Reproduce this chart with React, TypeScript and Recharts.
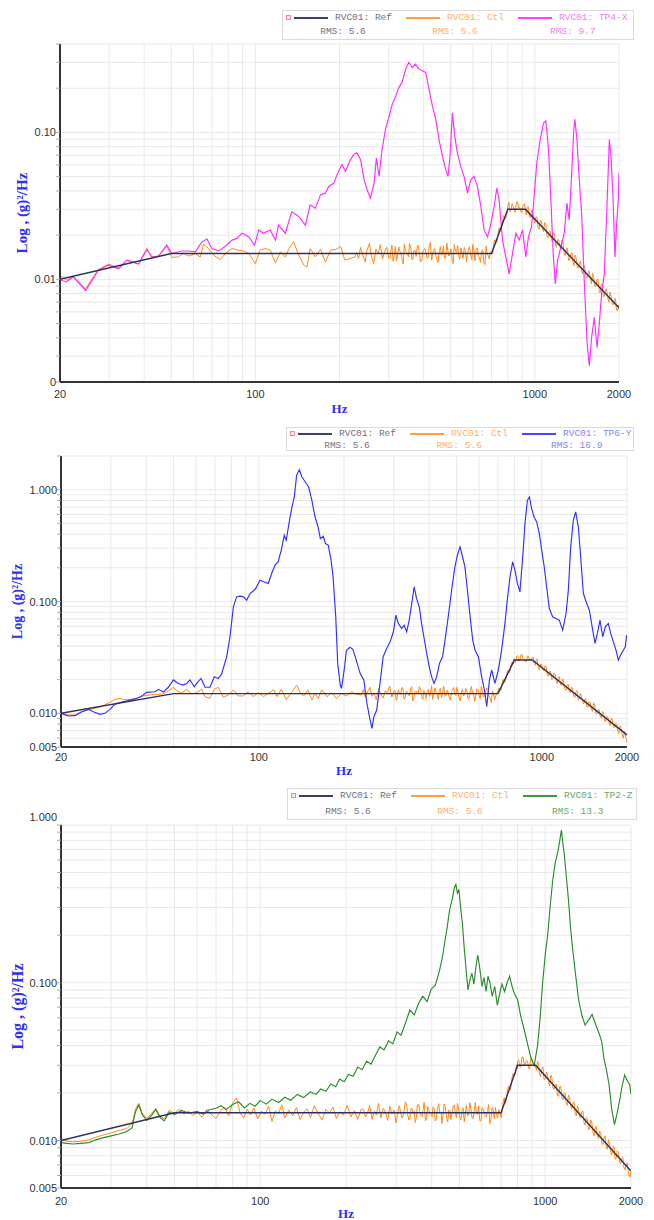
import React from 'react';
import { LineChart, Line, XAxis, YAxis, CartesianGrid } from 'recharts';

// ---------- shared axis values ----------
const X_TICKS = [20, 30, 40, 50, 60, 70, 80, 90, 100, 200, 300, 400, 500, 600, 700, 800, 900, 1000, 2000];
const X_LABELS = [20, 100, 1000, 2000];

const Y1_TICKS = [0.002, 0.003, 0.004, 0.005, 0.006, 0.007, 0.008, 0.009, 0.01, 0.02, 0.03, 0.04, 0.05, 0.06, 0.07, 0.08, 0.09, 0.1, 0.2, 0.3, 0.4];
const Y1_LABELS: [number, string][] = [[0.002, '0'], [0.01, '0.01'], [0.1, '0.10']];
const Y2_TICKS = [0.005, 0.006, 0.007, 0.008, 0.009, 0.01, 0.02, 0.03, 0.04, 0.05, 0.06, 0.07, 0.08, 0.09, 0.1, 0.2, 0.3, 0.4, 0.5, 0.6, 0.7, 0.8, 0.9, 1, 2];
const Y3_TICKS = [0.005, 0.006, 0.007, 0.008, 0.009, 0.01, 0.02, 0.03, 0.04, 0.05, 0.06, 0.07, 0.08, 0.09, 0.1, 0.2, 0.3, 0.4, 0.5, 0.6, 0.7, 0.8, 0.9, 1];
const Y23_LABELS: [number, string][] = [[0.005, '0.005'], [0.01, '0.010'], [0.1, '0.100'], [1, '1.000']];

// ---------- reference profile (same in all three charts) ----------
const REF_F = [20, 50, 700, 800, 925, 2000];
const REF_V = [0.01, 0.015, 0.015, 0.03, 0.03, 0.0064];

// ---------- control traces: low-frequency part (Hz, g²/Hz) ----------
const CTL1_LF = [[20, 0.01065], [21.1, 0.00985], [22.3, 0.0105], [24.7, 0.00863], [27.4, 0.01165], [29.8, 0.0127], [32.4, 0.01197], [34.7, 0.0135], [38.2, 0.0127], [40.9, 0.0162], [42.6, 0.0142], [45, 0.0144], [48.2, 0.0168], [50.3, 0.0141], [53.1, 0.0142], [55.3, 0.0151], [57.7, 0.0144], [61, 0.015], [63.5, 0.0142], [65.3, 0.0174], [68, 0.0162], [70.9, 0.0146], [74.9, 0.0136], [78.1, 0.015], [82.5, 0.0162], [86.7, 0.0158], [90.8, 0.0156], [94.6, 0.015], [100, 0.0128], [104, 0.0158], [109, 0.0162], [113, 0.0158], [118, 0.0129], [123, 0.0154], [128, 0.0142], [132, 0.0162], [137, 0.018], [143, 0.0146], [149, 0.0125], [153, 0.0121], [157, 0.0162], [164, 0.0142], [171, 0.016], [178, 0.0131], [186, 0.0158], [194, 0.016], [202, 0.0167], [209, 0.0135], [219, 0.0139], [227, 0.0142]];
const CTL2_LF = [[20, 0.01], [21.2, 0.00967], [22.4, 0.00967], [23.7, 0.01035], [25, 0.0107], [26.4, 0.0111], [27.8, 0.0115], [29.4, 0.0123], [31, 0.0133], [32.3, 0.0136], [33.7, 0.0132], [35.1, 0.0133], [37, 0.0136], [39.1, 0.0143], [41.3, 0.0146], [43, 0.0148], [45.4, 0.0148], [47.9, 0.0159], [49.9, 0.0171], [51.3, 0.0159], [53.4, 0.0151], [55.6, 0.0164], [57.9, 0.0149], [60.3, 0.0153], [62.8, 0.0164], [64.6, 0.0141], [67.2, 0.0136], [69.6, 0.0164], [71.9, 0.0171], [74.9, 0.0139], [78.1, 0.0146], [81.3, 0.0162], [84.6, 0.0143], [88.2, 0.0143], [91.8, 0.0156], [95.6, 0.0141], [99.6, 0.0153], [104, 0.0141], [108, 0.0151], [113, 0.0162], [116, 0.0141], [120, 0.0164], [125, 0.0133], [131, 0.0156], [136, 0.0179], [140, 0.0153], [144, 0.0143], [149, 0.0162], [154, 0.0132], [158, 0.0151], [162, 0.0136], [167, 0.0162], [174, 0.0141], [181, 0.0153], [188, 0.0136], [196, 0.0151], [204, 0.0143], [213, 0.0156], [219, 0.0149]];
const CTL3_LF = [[20, 0.0101], [21, 0.0099], [22, 0.0098], [23.5, 0.0099], [25, 0.0101], [26.5, 0.0105], [28, 0.0108], [30, 0.0112], [32, 0.0116], [34, 0.0119], [35.5, 0.0128], [36.5, 0.0158], [37.5, 0.0172], [38.5, 0.015], [40, 0.0138], [41.5, 0.0148], [43, 0.016], [44.5, 0.0143], [46, 0.0137], [48, 0.0156], [50, 0.0148], [52, 0.0158], [54, 0.0147], [56, 0.0154], [58, 0.0144], [60, 0.0151], [62.5, 0.0141], [65, 0.0157], [67.5, 0.0146], [70, 0.0138], [72.5, 0.0155], [75, 0.0162], [77.5, 0.0143], [80, 0.0172], [82.5, 0.0186], [85, 0.015], [87.5, 0.0139], [90, 0.0158], [92.5, 0.0145], [95, 0.0161], [98, 0.0137], [101, 0.0153], [104, 0.0147], [107, 0.0165], [110, 0.0132], [113, 0.0154], [116, 0.0148], [119, 0.0168], [122, 0.0139], [126, 0.0156], [130, 0.0143], [134, 0.0162], [138, 0.0136], [142, 0.0151], [146, 0.0159], [150, 0.014], [155, 0.0166], [160, 0.0147], [165, 0.0135], [170, 0.0158], [175, 0.0149], [180, 0.0163], [185, 0.0138], [190, 0.0152], [196, 0.0145], [202, 0.0167], [208, 0.0141], [214, 0.0155], [220, 0.0136], [226, 0.0158]];

// ---------- control traces: high-frequency part on two interleaved frequency lists ----------
const HF_F = [230, 234, 238, 242, 247, 251, 256, 260, 265, 270, 275, 280, 285, 290, 295, 300, 306, 311, 317, 323, 329, 335, 341, 347, 353, 360, 366, 373, 380, 387, 394, 401, 408, 415, 423, 431, 438, 446, 455, 463, 471, 480, 488, 497, 506, 515, 525, 534, 544, 554, 564, 574, 584, 595, 606, 617, 628, 639, 651, 663, 675, 687, 700, 712, 725, 738, 752, 765, 779, 793, 800, 814, 829, 844, 859, 875, 890, 906, 925, 939, 956, 973, 991, 1009, 1027, 1046, 1065, 1084, 1104, 1124, 1144, 1165, 1186, 1207, 1229, 1251, 1274, 1297, 1320, 1344, 1369, 1393, 1419, 1444, 1470, 1497, 1524, 1552, 1580, 1608, 1637, 1667, 1697, 1728, 1759, 1791, 1823, 1856, 1890, 1924, 1959, 1994, 2000];
const HF_F2 = [303, 308, 314, 320, 326, 332, 338, 344, 350, 356, 363, 369, 376, 383, 390, 397, 404, 411, 419, 427, 434, 442, 450, 459, 467, 475, 484, 492, 501, 510, 520, 529, 539, 549, 559, 569, 579, 589, 600, 611, 622, 633, 645, 657, 669, 681, 693, 706, 718, 731, 745, 758, 772, 786, 796, 807, 821, 836, 851, 867, 882, 898, 915, 932, 947, 964, 982, 1000, 1018, 1036, 1055, 1074, 1094, 1114, 1134, 1154, 1175, 1196, 1218, 1240, 1262, 1285, 1308, 1332, 1356, 1381, 1406, 1431, 1457, 1483, 1510, 1538, 1566, 1594, 1622, 1652, 1682, 1712, 1743, 1775, 1807, 1839, 1873, 1907, 1941, 1976];

const CTL1_HF = [0.0152, 0.0139, 0.0165, 0.0148, 0.0131, 0.0158, 0.0176, 0.0143, 0.0128, 0.0161, 0.0149, 0.0172, 0.0137, 0.0155, 0.0166, 0.0141, 0.0159, 0.0133, 0.0168, 0.0147, 0.0154, 0.0136, 0.0174, 0.0151, 0.0142, 0.0163, 0.0138, 0.0157, 0.0170, 0.0145, 0.0134, 0.0160, 0.0152, 0.0140, 0.0178, 0.0149, 0.0162, 0.0137, 0.0155, 0.0146, 0.0169, 0.0141, 0.0158, 0.0150, 0.0135, 0.0173, 0.0153, 0.0144, 0.0164, 0.0139, 0.0157, 0.0148, 0.0167, 0.0136, 0.0154, 0.0161, 0.0143, 0.0130, 0.0158, 0.0126, 0.0149, 0.0138, 0.0156,
  0.0172, 0.0176, 0.0205, 0.0212, 0.0245, 0.0268, 0.0281,
  0.0312, 0.0289, 0.0327, 0.0298, 0.0335, 0.0306, 0.0292, 0.0318, 0.0301,
  0.0309, 0.0267, 0.0295, 0.0254, 0.0265, 0.0224, 0.0253, 0.0224, 0.0243, 0.0198, 0.0211, 0.0188, 0.0208, 0.0170, 0.0187, 0.0167, 0.0184, 0.0150, 0.0163, 0.0134, 0.0149, 0.0133, 0.0146, 0.0120, 0.0130, 0.0114, 0.0125, 0.0103, 0.0112, 0.0101, 0.0110, 0.0090, 0.0099, 0.0085, 0.0093, 0.0076, 0.0085, 0.0075, 0.0082, 0.0068, 0.0073, 0.0062, 0.0067, 0.0062];
const CTL1_HF2 = [0.0138, 0.0171, 0.0145, 0.0133, 0.0166, 0.0152, 0.0127, 0.0160, 0.0148, 0.0175, 0.0136, 0.0157, 0.0143, 0.0169, 0.0131, 0.0154, 0.0162, 0.0140, 0.0172, 0.0135, 0.0158, 0.0146, 0.0130, 0.0167, 0.0151, 0.0139, 0.0176, 0.0144, 0.0161, 0.0128, 0.0155, 0.0170, 0.0137, 0.0149, 0.0165, 0.0132, 0.0159, 0.0147, 0.0173, 0.0134, 0.0163, 0.0142, 0.0156, 0.0129, 0.0168, 0.0145, 0.0153,
  0.0148, 0.0186, 0.0178, 0.0224, 0.0215, 0.0271, 0.0259,
  0.0281, 0.0334, 0.0293, 0.0318, 0.0286, 0.0337, 0.0309, 0.0285, 0.0326,
  0.0275, 0.0312, 0.0262, 0.0293, 0.0241, 0.0265, 0.0220, 0.0249, 0.0211, 0.0238, 0.0192, 0.0212, 0.0181, 0.0203, 0.0165, 0.0185, 0.0159, 0.0177, 0.0145, 0.0162, 0.0136, 0.0152, 0.0124, 0.0139, 0.0119, 0.0133, 0.0109, 0.0119, 0.0102, 0.0114, 0.0093, 0.0104, 0.0089, 0.0100, 0.0081, 0.0091, 0.0077, 0.0086, 0.0070, 0.0078, 0.0067, 0.0074, 0.0061];
const CTL2_HF = [0.0146, 0.0163, 0.0138, 0.0155, 0.0171, 0.0142, 0.0150, 0.0132, 0.0166, 0.0148, 0.0137, 0.0159, 0.0153, 0.0175, 0.0140, 0.0156, 0.0131, 0.0162, 0.0147, 0.0168, 0.0139, 0.0154, 0.0145, 0.0173, 0.0136, 0.0158, 0.0149, 0.0164, 0.0134, 0.0152, 0.0160, 0.0141, 0.0177, 0.0146, 0.0155, 0.0133, 0.0167, 0.0150, 0.0143, 0.0161, 0.0138, 0.0157, 0.0170, 0.0144, 0.0153, 0.0129, 0.0165, 0.0148, 0.0159, 0.0137, 0.0174, 0.0151, 0.0142, 0.0163, 0.0135, 0.0156, 0.0147, 0.0169, 0.0140, 0.0125, 0.0152, 0.0143, 0.0158,
  0.0159, 0.0191, 0.0189, 0.0226, 0.0231, 0.0272, 0.0276,
  0.0298, 0.0321, 0.0293, 0.0334, 0.0305, 0.0289, 0.0326, 0.0297, 0.0315,
  0.0279, 0.0303, 0.0252, 0.0277, 0.0247, 0.0268, 0.0221, 0.0238, 0.0201, 0.0230, 0.0197, 0.0210, 0.0180, 0.0203, 0.0164, 0.0177, 0.0157, 0.0171, 0.0143, 0.0156, 0.0131, 0.0151, 0.0128, 0.0134, 0.0114, 0.0128, 0.0109, 0.0124, 0.0100, 0.0108, 0.0095, 0.0104, 0.0085, 0.0094, 0.0083, 0.0091, 0.0075, 0.0081, 0.0069, 0.0077, 0.0064, 0.0069, 0.0058, 0.0055];
const CTL2_HF2 = [0.0161, 0.0137, 0.0152, 0.0170, 0.0134, 0.0158, 0.0145, 0.0166, 0.0129, 0.0156, 0.0149, 0.0173, 0.0141, 0.0160, 0.0136, 0.0164, 0.0151, 0.0133, 0.0169, 0.0147, 0.0157, 0.0138, 0.0175, 0.0144, 0.0153, 0.0131, 0.0162, 0.0148, 0.0171, 0.0139, 0.0155, 0.0143, 0.0167, 0.0135, 0.0159, 0.0150, 0.0128, 0.0165, 0.0146, 0.0174, 0.0140, 0.0154, 0.0163, 0.0137, 0.0158, 0.0132, 0.0150,
  0.0169, 0.0163, 0.0201, 0.0196, 0.0241, 0.0236, 0.0289,
  0.0307, 0.0284, 0.0329, 0.0296, 0.0338, 0.0301, 0.0290, 0.0322, 0.0299,
  0.0316, 0.0269, 0.0304, 0.0245, 0.0270, 0.0240, 0.0261, 0.0214, 0.0236, 0.0204, 0.0223, 0.0184, 0.0212, 0.0178, 0.0188, 0.0161, 0.0182, 0.0153, 0.0166, 0.0138, 0.0159, 0.0134, 0.0141, 0.0121, 0.0135, 0.0114, 0.0124, 0.0104, 0.0119, 0.0099, 0.0108, 0.0091, 0.0102, 0.0085, 0.0092, 0.0078, 0.0088, 0.0075, 0.0080, 0.0066, 0.0073, 0.0060, 0.0062];
const CTL3_HF = [0.0158, 0.0141, 0.0149, 0.0167, 0.0136, 0.0153, 0.0145, 0.0172, 0.0139, 0.0160, 0.0151, 0.0134, 0.0165, 0.0147, 0.0156, 0.0129, 0.0162, 0.0150, 0.0143, 0.0176, 0.0148, 0.0137, 0.0159, 0.0153, 0.0140, 0.0169, 0.0146, 0.0157, 0.0133, 0.0164, 0.0149, 0.0142, 0.0160, 0.0138, 0.0171, 0.0152, 0.0145, 0.0163, 0.0131, 0.0155, 0.0147, 0.0168, 0.0140, 0.0158, 0.0135, 0.0161, 0.0150, 0.0144, 0.0174, 0.0139, 0.0156, 0.0148, 0.0165, 0.0133, 0.0159, 0.0142, 0.0153, 0.0128, 0.0162, 0.0137, 0.0145, 0.0157, 0.0140,
  0.0175, 0.0172, 0.0211, 0.0208, 0.0252, 0.0257, 0.0302,
  0.0316, 0.0294, 0.0338, 0.0301, 0.0322, 0.0287, 0.0331, 0.0308, 0.0293,
  0.0317, 0.0264, 0.0285, 0.0243, 0.0272, 0.0236, 0.0260, 0.0215, 0.0227, 0.0194, 0.0219, 0.0188, 0.0200, 0.0172, 0.0194, 0.0165, 0.0172, 0.0147, 0.0166, 0.0141, 0.0152, 0.0129, 0.0140, 0.0117, 0.0135, 0.0113, 0.0120, 0.0107, 0.0115, 0.0096, 0.0105, 0.0091, 0.0101, 0.0084, 0.0090, 0.0076, 0.0086, 0.0074, 0.0077, 0.0067, 0.0071, 0.0062, 0.0063, 0.0058];
const CTL3_HF2 = [0.0144, 0.0166, 0.0139, 0.0155, 0.0171, 0.0135, 0.0160, 0.0148, 0.0130, 0.0168, 0.0152, 0.0141, 0.0175, 0.0137, 0.0157, 0.0146, 0.0163, 0.0133, 0.0159, 0.0150, 0.0128, 0.0170, 0.0143, 0.0156, 0.0136, 0.0164, 0.0149, 0.0172, 0.0140, 0.0153, 0.0131, 0.0167, 0.0145, 0.0158, 0.0138, 0.0174, 0.0147, 0.0134, 0.0161, 0.0151, 0.0142, 0.0169, 0.0136, 0.0154, 0.0162, 0.0139, 0.0151,
  0.0152, 0.0187, 0.0180, 0.0221, 0.0218, 0.0266, 0.0262,
  0.0286, 0.0325, 0.0292, 0.0339, 0.0303, 0.0316, 0.0284, 0.0330, 0.0305,
  0.0278, 0.0309, 0.0254, 0.0293, 0.0246, 0.0260, 0.0222, 0.0251, 0.0211, 0.0227, 0.0190, 0.0220, 0.0181, 0.0199, 0.0167, 0.0187, 0.0159, 0.0176, 0.0143, 0.0159, 0.0139, 0.0154, 0.0125, 0.0136, 0.0118, 0.0131, 0.0107, 0.0123, 0.0103, 0.0111, 0.0094, 0.0107, 0.0088, 0.0095, 0.0081, 0.0092, 0.0077, 0.0084, 0.0071, 0.0078, 0.0065, 0.0072, 0.0059];

// ---------- response channels ----------
const TP4X = [[20, 0.0099], [21.1, 0.0096], [22.3, 0.0104], [24.7, 0.0084], [27.4, 0.0115], [29.8, 0.0125], [32.4, 0.0118], [34.7, 0.0135], [38.2, 0.0127], [40.9, 0.016], [42.6, 0.0142], [45, 0.0144], [48.2, 0.0171], [50.3, 0.015], [54.6, 0.0156], [57.7, 0.0156], [61, 0.0154], [64.4, 0.018], [67.1, 0.0188], [69.9, 0.0162], [73.9, 0.0156], [78.1, 0.0168], [82.5, 0.0185], [86, 0.019], [89.6, 0.0206], [94.6, 0.0195], [99.4, 0.0171], [102.8, 0.0217], [107, 0.0206], [113, 0.0217], [118, 0.0185], [121, 0.0234], [128, 0.0206], [135, 0.0289], [143, 0.0267], [151, 0.0234], [157, 0.0321], [164, 0.0305], [171, 0.0376], [178, 0.0386], [183, 0.0429], [191, 0.0452], [196, 0.0515], [204, 0.0604], [210, 0.0543], [219, 0.0653], [225, 0.0707], [231, 0.0726], [238, 0.0653], [245, 0.0477], [251, 0.0407], [258, 0.0357], [266, 0.0452], [271, 0.067], [277, 0.0502], [284, 0.0765], [292, 0.105], [301, 0.129], [309, 0.156], [318, 0.177], [326, 0.202], [335, 0.219], [345, 0.27], [354, 0.3], [364, 0.277], [374, 0.292], [385, 0.27], [396, 0.263], [407, 0.256], [418, 0.197], [430, 0.151], [442, 0.123], [454, 0.0895], [467, 0.0689], [480, 0.0558], [489, 0.0502], [497, 0.0689], [507, 0.136], [517, 0.0944], [528, 0.0726], [543, 0.0588], [558, 0.0502], [574, 0.0386], [590, 0.0477], [606, 0.0502], [623, 0.0429], [641, 0.0313], [658, 0.0217], [677, 0.0195], [692, 0.0228], [715, 0.0313], [731, 0.0418], [745, 0.0348], [766, 0.0185], [787, 0.0142], [809, 0.0109], [832, 0.015], [855, 0.0206], [879, 0.0185], [903, 0.0217], [928, 0.0142], [949, 0.0195], [973, 0.0228], [994, 0.0366], [1016, 0.062], [1045, 0.0895], [1074, 0.116], [1095, 0.12], [1119, 0.0765], [1141, 0.0348], [1163, 0.015], [1183, 0.0093], [1206, 0.0135], [1239, 0.0166], [1274, 0.0206], [1302, 0.033], [1327, 0.0254], [1353, 0.0502], [1376, 0.0995], [1391, 0.123], [1414, 0.0895], [1442, 0.0477], [1470, 0.0282], [1502, 0.0098], [1536, 0.00382], [1566, 0.00258], [1596, 0.00403], [1632, 0.00552], [1668, 0.00344], [1700, 0.00497], [1733, 0.00798], [1772, 0.0109], [1811, 0.0313], [1847, 0.0895], [1872, 0.0689], [1903, 0.0366], [1935, 0.0142], [1962, 0.0241], [1989, 0.0348], [2000, 0.053]];
const TP6Y = [[20, 0.01], [21.2, 0.00946], [22.4, 0.00953], [23.7, 0.01035], [25, 0.01086], [26, 0.01035], [27.5, 0.0098], [28.6, 0.01], [29.8, 0.01086], [31, 0.0121], [32.8, 0.0126], [34.6, 0.013], [37, 0.0136], [38.6, 0.0143], [40.1, 0.0154], [43, 0.0156], [44.2, 0.0164], [46, 0.0155], [47.9, 0.0171], [49.9, 0.0199], [51.9, 0.0185], [54.1, 0.0179], [55.6, 0.0185], [57.1, 0.0199], [59.2, 0.0173], [60.3, 0.0185], [62.5, 0.0205], [64.6, 0.0171], [67.2, 0.0171], [69.6, 0.0212], [71.9, 0.0205], [73.9, 0.0225], [77, 0.0321], [79.1, 0.0484], [81.3, 0.0896], [83.5, 0.11], [85.8, 0.1116], [88.2, 0.11], [90.6, 0.1028], [93.1, 0.1178], [97, 0.128], [101, 0.155], [104, 0.15], [108, 0.145], [111, 0.178], [114, 0.211], [117, 0.226], [120, 0.287], [123, 0.391], [125, 0.353], [129, 0.57], [131, 0.7], [133.5, 0.86], [136, 1.343], [139, 1.509], [142, 1.297], [146, 1.171], [150, 1.056], [154, 0.803], [158, 0.57], [162, 0.464], [165, 0.365], [169, 0.383], [172, 0.33], [176, 0.318], [180, 0.234], [183, 0.166], [187, 0.073], [190, 0.0279], [194, 0.0179], [196, 0.0167], [201, 0.0261], [204, 0.0367], [210, 0.039], [215, 0.0373], [221, 0.0299], [228, 0.0228], [235, 0.0199], [241, 0.0123], [246, 0.00934], [251, 0.00735], [255, 0.00934], [261, 0.0107], [268, 0.0185], [275, 0.0321], [283, 0.038], [291, 0.0436], [299, 0.0536], [305, 0.0755], [311, 0.0637], [320, 0.0574], [326, 0.0615], [333, 0.0536], [340, 0.0681], [347, 0.096], [354, 0.135], [361, 0.106], [369, 0.0896], [376, 0.0637], [383, 0.0484], [392, 0.0343], [400, 0.0261], [408, 0.0212], [416, 0.0185], [425, 0.0212], [435, 0.0279], [446, 0.0321], [455, 0.0452], [467, 0.073], [480, 0.126], [493, 0.204], [503, 0.259], [514, 0.308], [525, 0.25], [535, 0.204], [546, 0.126], [558, 0.073], [570, 0.0452], [581, 0.0367], [597, 0.0321], [613, 0.0212], [627, 0.0162], [639, 0.0115], [653, 0.0199], [665, 0.0244], [683, 0.0185], [702, 0.0244], [721, 0.0367], [741, 0.0637], [755, 0.1028], [772, 0.166], [789, 0.226], [804, 0.19], [820, 0.145], [837, 0.122], [856, 0.25], [872, 0.497], [889, 0.803], [904, 0.86], [921, 0.676], [939, 0.57], [959, 0.514], [980, 0.405], [999, 0.287], [1018, 0.211], [1040, 0.135], [1063, 0.0866], [1092, 0.073], [1122, 0.0705], [1153, 0.0681], [1185, 0.0555], [1218, 0.0781], [1241, 0.126], [1265, 0.308], [1292, 0.532], [1317, 0.632], [1346, 0.464], [1372, 0.25], [1402, 0.118], [1441, 0.096], [1472, 0.0837], [1513, 0.0555], [1542, 0.0422], [1571, 0.0518], [1606, 0.0681], [1641, 0.0484], [1677, 0.0594], [1718, 0.0637], [1751, 0.0518], [1790, 0.0436], [1829, 0.0367], [1864, 0.0299], [1899, 0.0332], [1941, 0.0367], [1973, 0.0394], [1994, 0.05]];
const TP2Z = [[20, 0.0097], [21, 0.0096], [22, 0.0095], [23.5, 0.0096], [25, 0.0097], [26.5, 0.0101], [28, 0.0104], [30, 0.0107], [32, 0.011], [34, 0.0114], [35.5, 0.012], [36.5, 0.0152], [37.5, 0.0168], [38.5, 0.0146], [40, 0.0134], [41.5, 0.0144], [43, 0.0157], [44.5, 0.014], [46, 0.0133], [48, 0.0151], [50, 0.0146], [53, 0.0155], [56, 0.0149], [60, 0.0153], [63, 0.0147], [66, 0.0156], [70, 0.016], [73, 0.0166], [76, 0.0157], [80, 0.0169], [84, 0.0176], [88, 0.0161], [92, 0.0172], [96, 0.0165], [100, 0.0179], [105, 0.017], [110, 0.0183], [116, 0.0174], [122, 0.0188], [128, 0.018], [135, 0.0196], [142, 0.0187], [150, 0.0203], [157, 0.0196], [163, 0.0212], [170, 0.0205], [177, 0.0228], [184, 0.0219], [190, 0.0245], [197, 0.0236], [204, 0.0262], [212, 0.0255], [220, 0.0292], [228, 0.0281], [236, 0.0318], [245, 0.0305], [254, 0.0348], [263, 0.0392], [272, 0.0375], [282, 0.0428], [292, 0.041], [302, 0.0488], [312, 0.0465], [323, 0.0552], [335, 0.0672], [347, 0.0625], [360, 0.0745], [372, 0.082], [385, 0.076], [398, 0.091], [412, 0.097], [425, 0.118], [435, 0.142], [444, 0.18], [453, 0.225], [462, 0.29], [472, 0.34], [480, 0.4], [486, 0.42], [492, 0.37], [498, 0.39], [505, 0.3], [512, 0.24], [520, 0.165], [528, 0.12], [536, 0.09], [545, 0.105], [553, 0.115], [562, 0.098], [572, 0.128], [580, 0.15], [590, 0.122], [600, 0.095], [610, 0.108], [620, 0.088], [630, 0.11], [640, 0.1], [652, 0.082], [665, 0.095], [679, 0.072], [692, 0.085], [705, 0.098], [720, 0.088], [735, 0.1], [750, 0.11], [765, 0.095], [780, 0.085], [800, 0.078], [820, 0.062], [845, 0.05], [870, 0.04], [893, 0.033], [915, 0.03], [940, 0.04], [960, 0.06], [978, 0.097], [1000, 0.15], [1020, 0.2], [1040, 0.3], [1063, 0.45], [1085, 0.58], [1110, 0.69], [1125, 0.8], [1140, 0.93], [1155, 0.75], [1168, 0.64], [1185, 0.48], [1207, 0.335], [1228, 0.22], [1250, 0.16], [1280, 0.11], [1310, 0.078], [1345, 0.062], [1380, 0.054], [1420, 0.058], [1460, 0.063], [1500, 0.055], [1550, 0.047], [1580, 0.042], [1610, 0.0326], [1640, 0.028], [1675, 0.0226], [1710, 0.016], [1750, 0.0126], [1790, 0.015], [1825, 0.018], [1860, 0.022], [1900, 0.026], [1940, 0.024], [1980, 0.0226], [2000, 0.0196]];

// ---------- legend text ----------
const SERIES_NAMES = ['RVC01: Ref', 'RVC01: Ctl'];
const TEST_NAMES = ['RVC01: TP4-X', 'RVC01: TP6-Y', 'RVC01: TP2-Z'];
const RMS_REF = ['5.6', '5.6', '5.6'];
const RMS_CTL = ['5.6', '5.6', '5.6'];
const RMS_TEST = ['9.7', '16.9', '13.3'];

// ---------- styling ----------
const FONT_SANS = '"Liberation Sans", Arial, sans-serif';
const FONT_MONO = '"Liberation Mono", "Courier New", monospace';
const FONT_SERIF = '"Liberation Serif", "Times New Roman", serif';
const TITLE_BLUE = '#2f2ff2';
const REF_COLOR = '#2c3060';
const CTL_COLOR = '#ff8a1a';

type Pt = { f: number; v: number };
const fromPairs = (a: number[][]): Pt[] => a.map(([f, v]) => ({ f, v }));
const fromLists = (fs: number[], vals: number[]): Pt[] => fs.map((f, i) => ({ f, v: vals[i] }));
const ctlTrace = (lf: number[][], hf: number[], hf2: number[]): Pt[] => [
  ...fromPairs(lf),
  ...[...fromLists(HF_F, hf), ...fromLists(HF_F2, hf2)].sort((a, b) => a.f - b.f),
];
const REF_DATA: Pt[] = fromLists(REF_F, REF_V);

type ChartCfg = {
  top: number; height: number; left: number; right: number; plotTop: number; plotBottom: number;
  yDomain: [number, number]; yTicks: number[]; yLabels: [number, string][];
  ctl: Pt[]; test: Pt[]; testColor: string; testText: string; idx: number;
  titleX: number; titleSize: number; xLabelDy: number; hzDy: number;
  legend: { left: number; top: number; width: number; height: number; row1: number; row2: number };
};

const CHARTS: ChartCfg[] = [
  {
    top: 0, height: 420, left: 60, right: 619, plotTop: 44, plotBottom: 382,
    yDomain: [0.002, 0.4], yTicks: Y1_TICKS, yLabels: Y1_LABELS,
    ctl: ctlTrace(CTL1_LF, CTL1_HF, CTL1_HF2), test: fromPairs(TP4X), testColor: '#ff2cff', testText: '#ee80ee', idx: 0,
    titleX: 22, titleSize: 15, xLabelDy: 16, hzDy: 31,
    legend: { left: 282, top: 10, width: 352, height: 30, row1: 7, row2: 21 },
  },
  {
    top: 420, height: 360, left: 61, right: 627, plotTop: 36, plotBottom: 327,
    yDomain: [0.005, 2], yTicks: Y2_TICKS, yLabels: Y23_LABELS,
    ctl: ctlTrace(CTL2_LF, CTL2_HF, CTL2_HF2), test: fromPairs(TP6Y), testColor: '#3030ff', testText: '#8484ff', idx: 1,
    titleX: 17, titleSize: 14, xLabelDy: 14, hzDy: 28,
    legend: { left: 286, top: 7, width: 348, height: 24, row1: 6, row2: 17.5 },
  },
  {
    top: 780, height: 440, left: 61, right: 631, plotTop: 45, plotBottom: 408,
    yDomain: [0.005, 1], yTicks: Y3_TICKS, yLabels: Y23_LABELS,
    ctl: ctlTrace(CTL3_LF, CTL3_HF, CTL3_HF2), test: fromPairs(TP2Z), testColor: '#2a8c2a', testText: '#66aa66', idx: 2,
    titleX: 17, titleSize: 16, xLabelDy: 17, hzDy: 30,
    legend: { left: 287, top: 8, width: 350, height: 32, row1: 7, row2: 22.5 },
  },
];

const LEGEND_LINE = ['#3b3f6e', '#ffa040'];
const LEGEND_TEXT = ['#6f7285', '#ffb069'];
const TEST_LEGEND_LINE = ['#ff44ff', '#4848ff', '#3c9a3c'];

function LegendBox({ cfg }: { cfg: ChartCfg }) {
  const L = cfg.legend;
  const cols = [
    { name: SERIES_NAMES[0], rms: RMS_REF[cfg.idx], line: LEGEND_LINE[0], text: LEGEND_TEXT[0] },
    { name: SERIES_NAMES[1], rms: RMS_CTL[cfg.idx], line: LEGEND_LINE[1], text: LEGEND_TEXT[1] },
    { name: TEST_NAMES[cfg.idx], rms: RMS_TEST[cfg.idx], line: TEST_LEGEND_LINE[cfg.idx], text: cfg.testText },
  ];
  return (
    <div style={{ position: 'absolute', left: L.left, top: L.top, width: L.width, height: L.height, border: '1px solid #dadada', boxSizing: 'border-box', background: '#fff', fontFamily: FONT_MONO, fontSize: 9.5 }}>
      <div style={{ position: 'absolute', left: 3, top: L.row1 - 3, width: 5, height: 5, border: '1px solid #f08c8c', background: '#fde4e4', boxSizing: 'border-box' }} />
      {cols.map((c, i) => (
        <div key={i} style={{ position: 'absolute', left: 11 + i * 112, top: L.row1 - 6, display: 'flex', flexDirection: 'column', alignItems: 'center' }}>
          <div style={{ display: 'flex', alignItems: 'center', height: 12 }}>
            <span style={{ display: 'inline-block', width: 34, height: 2, background: c.line, marginRight: 7 }} />
            <span style={{ color: c.text, lineHeight: '12px', whiteSpace: 'pre' }}>{c.name}</span>
          </div>
          <div style={{ color: c.text, lineHeight: '12px', whiteSpace: 'pre', marginTop: L.row2 - L.row1 - 12 }}>{'RMS: ' + c.rms}</div>
        </div>
      ))}
    </div>
  );
}

function PsdChart({ cfg }: { cfg: ChartCfg }) {
  const margin = { top: cfg.plotTop, right: 654 - cfg.right, left: 0, bottom: cfg.height - cfg.plotBottom - 30 };
  const xTick = (p: any) => {
    const val = p.payload?.value;
    if (!X_LABELS.includes(val)) return <g />;
    return (
      <text x={p.x} y={cfg.plotBottom + cfg.xLabelDy} textAnchor="middle" fontSize={11} fill="#333" fontFamily={FONT_SANS}>{String(val)}</text>
    );
  };
  const yTick = (p: any) => {
    const val = p.payload?.value;
    const lab = cfg.yLabels.find(([v]) => Math.abs(v - val) < v * 1e-6);
    if (!lab) return <g />;
    const shift = lab[0] === cfg.yDomain[1] ? -8 : 0;
    return (
      <text x={p.x} y={p.y + shift} dy={4} textAnchor="end" fontSize={11} fill="#333" fontFamily={FONT_SANS}>{lab[1]}</text>
    );
  };
  const yTitle = (p: any) => {
    const vb = p.viewBox || {};
    const cx = cfg.titleX;
    const cy = (vb.y ?? cfg.plotTop) + (vb.height ?? cfg.plotBottom - cfg.plotTop) / 2;
    return (
      <text x={cx} y={cy} transform={`rotate(-90 ${cx} ${cy})`} textAnchor="middle" dominantBaseline="central" fontSize={cfg.titleSize} fontWeight="bold" fill={TITLE_BLUE} fontFamily={FONT_SERIF}>Log , (g)²/Hz</text>
    );
  };
  const xTitle = (p: any) => {
    const vb = p.viewBox || {};
    const cx = (vb.x ?? cfg.left) + (vb.width ?? cfg.right - cfg.left) / 2;
    return (
      <text x={cx} y={cfg.plotBottom + cfg.hzDy} textAnchor="middle" fontSize={13} fontWeight="bold" fill={TITLE_BLUE} fontFamily={FONT_SERIF}>Hz</text>
    );
  };
  return (
    <div style={{ position: 'absolute', left: 0, top: cfg.top, width: 654, height: cfg.height }}>
      <LineChart width={654} height={cfg.height} margin={margin}>
        <CartesianGrid stroke="#e8e8e8" />
        <XAxis dataKey="f" type="number" scale="log" domain={[20, 2000]} allowDataOverflow ticks={X_TICKS} interval={0}
          tickLine={false} tickSize={0} tickMargin={0} height={30} axisLine={{ stroke: '#333', strokeWidth: 2 }} tick={xTick} label={xTitle} />
        <XAxis xAxisId="top" orientation="top" type="number" domain={[0, 1]} height={0} tick={false} tickLine={false}
          axisLine={{ stroke: '#444', strokeWidth: 2 }} />
        <YAxis type="number" scale="log" domain={cfg.yDomain} allowDataOverflow ticks={cfg.yTicks} interval={0} width={cfg.left}
          tickSize={4} tickMargin={0} tickLine={{ stroke: '#aaa' }} axisLine={{ stroke: '#333', strokeWidth: 2 }} tick={yTick} label={yTitle} />
        <YAxis yAxisId="right" orientation="right" type="number" domain={[0, 1]} width={0} tick={false} tickLine={false}
          axisLine={{ stroke: '#444', strokeWidth: 2 }} />
        <Line data={cfg.ctl} dataKey="v" type="linear" dot={false} stroke={CTL_COLOR} strokeWidth={1} isAnimationActive={false} />
        <Line data={cfg.test} dataKey="v" type="linear" dot={false} stroke={cfg.testColor} strokeWidth={1.15} isAnimationActive={false} />
        <Line data={REF_DATA} dataKey="v" type="linear" dot={false} stroke={REF_COLOR} strokeWidth={1.4} isAnimationActive={false} />
      </LineChart>
      <LegendBox cfg={cfg} />
    </div>
  );
}

export default function App() {
  return (
    <div style={{ position: 'absolute', left: 0, top: 0, width: 654, height: 1220, background: '#fff', overflow: 'hidden' }}>
      {CHARTS.map((c, i) => <PsdChart key={i} cfg={c} />)}
    </div>
  );
}
